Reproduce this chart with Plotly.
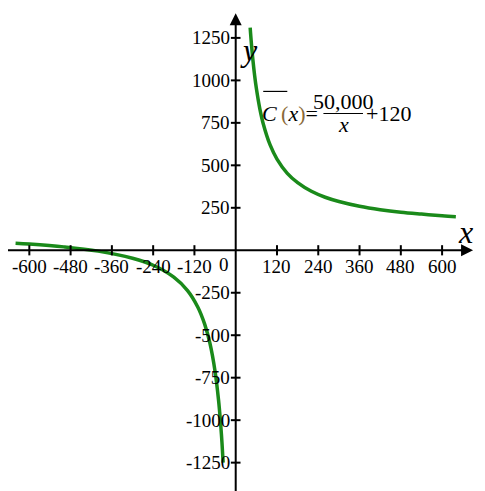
import plotly.graph_objects as go

pos_x = [42, 46, 50, 55, 60, 70, 80, 100, 120, 150, 180, 220, 260, 300, 360, 420, 480, 540, 600, 640]
pos_y = [1310, 1207, 1120, 1029, 953, 834, 745, 620, 537, 453, 398, 347, 312, 287, 259, 239, 224, 213, 203, 198]
neg_x = [-640, -600, -500, -400, -300, -240, -180, -140, -110, -90, -75, -60, -50, -44, -40, -36.5]
neg_y = [42, 37, 20, -5, -47, -88, -158, -237, -335, -436, -547, -713, -880, -1016, -1130, -1250]
x_ticks = [-600, -480, -360, -240, -120, 120, 240, 360, 480, 600]
y_ticks = [1250, 1000, 750, 500, 250, -250, -500, -750, -1000, -1250]

XR = [-662, 748]
YR = [-1464, 1426]
F = "Liberation Serif, Times New Roman, DejaVu Serif, serif"
green = "#1a8a1a"

fig = go.Figure()
fig.add_trace(go.Scatter(x=pos_x, y=pos_y, mode="lines", line=dict(color=green, width=3.5, shape="spline")))
fig.add_trace(go.Scatter(x=neg_x, y=neg_y, mode="lines", line=dict(color=green, width=3.5, shape="spline")))

shapes = [
    dict(type="line", x0=-680, x1=670, y0=0, y1=0, line=dict(color="black", width=2)),
    dict(type="line", x0=0, x1=0, y0=-1464, y1=1370, line=dict(color="black", width=2)),
]
for t in x_ticks:
    shapes.append(dict(type="line", x0=t, x1=t, y0=-30, y1=30, line=dict(color="black", width=2)))
for t in y_ticks:
    shapes.append(dict(type="line", x0=-14, x1=14, y0=t, y1=t, line=dict(color="black", width=2)))
# fraction bar
shapes.append(dict(type="line", x0=255, x1=370, y0=805, y1=805, line=dict(color="black", width=1.2)))
fig.update_layout(shapes=shapes)

ann = []
for t in x_ticks:
    ann.append(dict(x=t, y=0, text=str(t), showarrow=False, yanchor="top", yshift=-4,
                    font=dict(family=F, size=19, color="black")))
for t in y_ticks:
    ann.append(dict(x=0, y=t, text=str(t), showarrow=False, xanchor="right", xshift=-4,
                    font=dict(family=F, size=19, color="black")))
ann.append(dict(x=0, y=0, text="0", showarrow=False, xanchor="right", yanchor="top", xshift=-5, yshift=-2,
                font=dict(family=F, size=19, color="black")))
ann.append(dict(x=690, y=0, ax=650, ay=0, axref="x", ayref="y", xref="x", yref="y", text="",
                showarrow=True, arrowhead=2, arrowsize=1.2, arrowwidth=2, arrowcolor="black"))
ann.append(dict(x=0, y=1395, ax=0, ay=1330, axref="x", ayref="y", text="",
                showarrow=True, arrowhead=2, arrowsize=1.2, arrowwidth=2, arrowcolor="black"))
ann.append(dict(x=640, y=110, text="<i>x</i>", showarrow=False, xanchor="left",
                font=dict(family=F, size=32, color="black")))
ann.append(dict(x=8, y=1180, text="<i>y</i>", showarrow=False, xanchor="left",
                font=dict(family=F, size=32, color="black")))
ann.append(dict(x=70, y=805, text="<i>C</i>&#8201;<span style='color:#8a6a3a'>(</span><i>x</i><span style='color:#8a6a3a'>)</span>=", showarrow=False, xanchor="left",
                font=dict(family=F, size=22, color="black")))
shapes_over = dict(type="line", x0=80, x1=150, y0=935, y1=935, line=dict(color="black", width=1.2))
fig.add_shape(shapes_over)
ann.append(dict(x=312, y=805, text="50,000", showarrow=False, yanchor="bottom", yshift=-2,
                font=dict(family=F, size=22, color="black")))
ann.append(dict(x=312, y=805, text="<i>x</i>", showarrow=False, yanchor="top", yshift=4,
                font=dict(family=F, size=22, color="black")))
ann.append(dict(x=372, y=805, text="+120", showarrow=False, xanchor="left",
                font=dict(family=F, size=22, color="black")))
fig.update_layout(annotations=ann)

fig.update_layout(
    width=485, height=491, margin=dict(l=0, r=0, t=0, b=0),
    paper_bgcolor="white", plot_bgcolor="white", showlegend=False,
    xaxis=dict(range=XR, visible=False, fixedrange=True),
    yaxis=dict(range=YR, visible=False, fixedrange=True),
)
fig.write_html("out.html")
